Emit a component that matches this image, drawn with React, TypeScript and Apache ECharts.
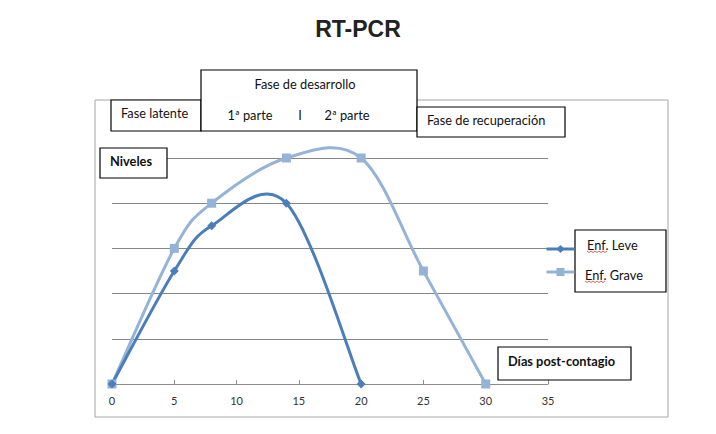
import React, { useEffect, useRef } from 'react';
import * as echarts from 'echarts';

// días post-contagio
const leveDias = [0, 5, 8, 14, 20];
const leveNiveles = [0, 2.5, 3.5, 4, 0];
const graveDias = [0, 5, 8, 14, 20, 25, 30];
const graveNiveles = [0, 3, 4, 5, 5, 2.5, 0];
const seriesNames = ['Enf. Leve', 'Enf. Grave'];
const seriesColors = ['#4A7EBB', '#95B3D7'];
const xTicks = [0, 35, 5]; // min, max, interval
const yTicks = [0, 5, 1];

const FONT = 'Lato, "Open Sans", sans-serif';

const box = (x: number, y: number, w: number, h: number) => ({
  type: 'rect',
  shape: { x, y, width: w, height: h },
  style: { fill: '#fff', stroke: '#000', lineWidth: 1.2 },
  z: 100,
});

const label = (text: string, x: number, y: number, bold = false, align = 'left') => ({
  type: 'text',
  x,
  y,
  style: {
    text,
    fill: '#111',
    font: `${bold ? 'bold ' : ''}12.8px ${FONT}`,
    textAlign: align,
    textVerticalAlign: 'middle',
  },
  z: 101,
});

// subrayado rojo del corrector ortográfico
const squiggle = (x: number, y: number, w: number) => {
  const pts: number[][] = [];
  for (let i = 0; i <= w; i += 2) pts.push([x + i, y + ((i / 2) % 2 === 0 ? 0 : 1.5)]);
  return {
    type: 'polyline',
    shape: { points: pts },
    style: { stroke: '#e03030', lineWidth: 0.8, fill: 'none' },
    z: 130,
  };
};

// curva suavizada tipo Excel (Bezier, 1/6 de la tangente)
const smoothCurve = (dias: number[], niveles: number[], color: string, z: number) => ({
  type: 'custom',
  name: `curva-${color}`,
  coordinateSystem: 'cartesian2d',
  z,
  silent: true,
  data: [[dias[0], niveles[0]]],
  renderItem: (_params: any, api: any) => {
    const p = dias.map((d, i) => api.coord([d, niveles[i]]));
    let d = `M${p[0][0]},${p[0][1]}`;
    for (let i = 0; i < p.length - 1; i++) {
      const p0 = p[i - 1] || p[i];
      const p1 = p[i];
      const p2 = p[i + 1];
      const p3 = p[i + 2] || p[i + 1];
      const c1x = p1[0] + (p2[0] - p0[0]) / 6;
      const c1y = p1[1] + (p2[1] - p0[1]) / 6;
      const c2x = p2[0] - (p3[0] - p1[0]) / 6;
      const c2y = p2[1] - (p3[1] - p1[1]) / 6;
      d += ` C${c1x},${c1y} ${c2x},${c2y} ${p2[0]},${p2[1]}`;
    }
    return {
      type: 'path',
      shape: { pathData: d },
      style: { fill: 'none', stroke: color, lineWidth: 3 },
    };
  },
});

const App: React.FC = () => {
  const chartRef = useRef<HTMLDivElement>(null);

  useEffect(() => {
    if (!chartRef.current) return;
    const chart = echarts.init(chartRef.current, null, { renderer: 'svg' });

    const options: any = {
      animation: false,
      backgroundColor: '#fff',
      title: {
        text: 'RT-PCR',
        left: 'center',
        top: 12,
        textStyle: { fontFamily: '"Liberation Sans", Arial, sans-serif', fontSize: 23, fontWeight: 'bold', color: '#222' },
      },
      grid: { left: 112, right: 168, top: 158, bottom: 50 },
      xAxis: {
        type: 'value',
        min: xTicks[0],
        max: xTicks[1],
        interval: xTicks[2],
        axisLine: { lineStyle: { color: '#8c8c8c', width: 1 } },
        axisTick: { inside: true, length: 4, lineStyle: { color: '#8c8c8c' } },
        axisLabel: { color: '#333', fontSize: 11, fontFamily: FONT, margin: 11 },
        splitLine: { show: false },
      },
      yAxis: {
        type: 'value',
        min: yTicks[0],
        max: yTicks[1],
        interval: yTicks[2],
        axisLine: { show: false },
        axisTick: { show: false },
        axisLabel: { show: false },
        splitLine: { lineStyle: { color: '#868686', width: 1 } },
      },
      legend: {
        orient: 'vertical',
        left: 545,
        top: 244,
        padding: 0,
        z: 120,
        itemWidth: 28,
        itemHeight: 10,
        itemGap: 14,
        lineStyle: { opacity: 1, width: 3 },
        formatter: () => '',
        data: seriesNames,
      },
      series: [
        smoothCurve(graveDias, graveNiveles, seriesColors[1], 2),
        smoothCurve(leveDias, leveNiveles, seriesColors[0], 3),
        {
          name: seriesNames[1],
          type: 'line',
          z: 4,
          data: graveDias.map((d, i) => [d, graveNiveles[i]]),
          symbol: 'rect',
          symbolSize: 9,
          itemStyle: { color: seriesColors[1] },
          lineStyle: { color: seriesColors[1], width: 3, opacity: 0 },
        },
        {
          name: seriesNames[0],
          type: 'line',
          z: 5,
          data: leveDias.map((d, i) => [d, leveNiveles[i]]),
          symbol: 'diamond',
          symbolSize: 9,
          itemStyle: { color: seriesColors[0] },
          lineStyle: { color: seriesColors[0], width: 3, opacity: 0 },
        },
      ],
      graphic: [
        {
          type: 'rect',
          shape: { x: 95, y: 100, width: 573, height: 317 },
          style: { fill: 'none', stroke: '#a6a6a6', lineWidth: 1 },
          z: 0,
        },
        box(111, 100, 90, 31),
        box(201, 70, 216, 61),
        box(417, 107, 148, 30),
        box(100, 148, 67, 30),
        box(498, 347, 133, 33),
        box(575, 230, 91, 62),
        label('Fase latente', 121, 113),
        label('Fase de desarrollo', 305, 84, false, 'center'),
        label('1ª parte', 250, 115, false, 'center'),
        label('I', 300, 115, false, 'center'),
        label('2ª parte', 347, 115, false, 'center'),
        label('Fase de recuperación', 427, 120),
        label('Niveles', 110, 161, true),
        label('Días post-contagio', 508, 361, true),
        label(seriesNames[0], 587, 245),
        label(seriesNames[1], 585, 275),
        squiggle(587, 251, 20),
        squiggle(585, 281, 20),
      ],
    };

    chart.setOption(options);
    return () => {
      chart.dispose();
    };
  }, []);

  return (
    <div
      ref={chartRef}
      style={{ position: 'fixed', left: 0, top: 0, width: 716, height: 434, background: '#fff' }}
    />
  );
};

export default App;
